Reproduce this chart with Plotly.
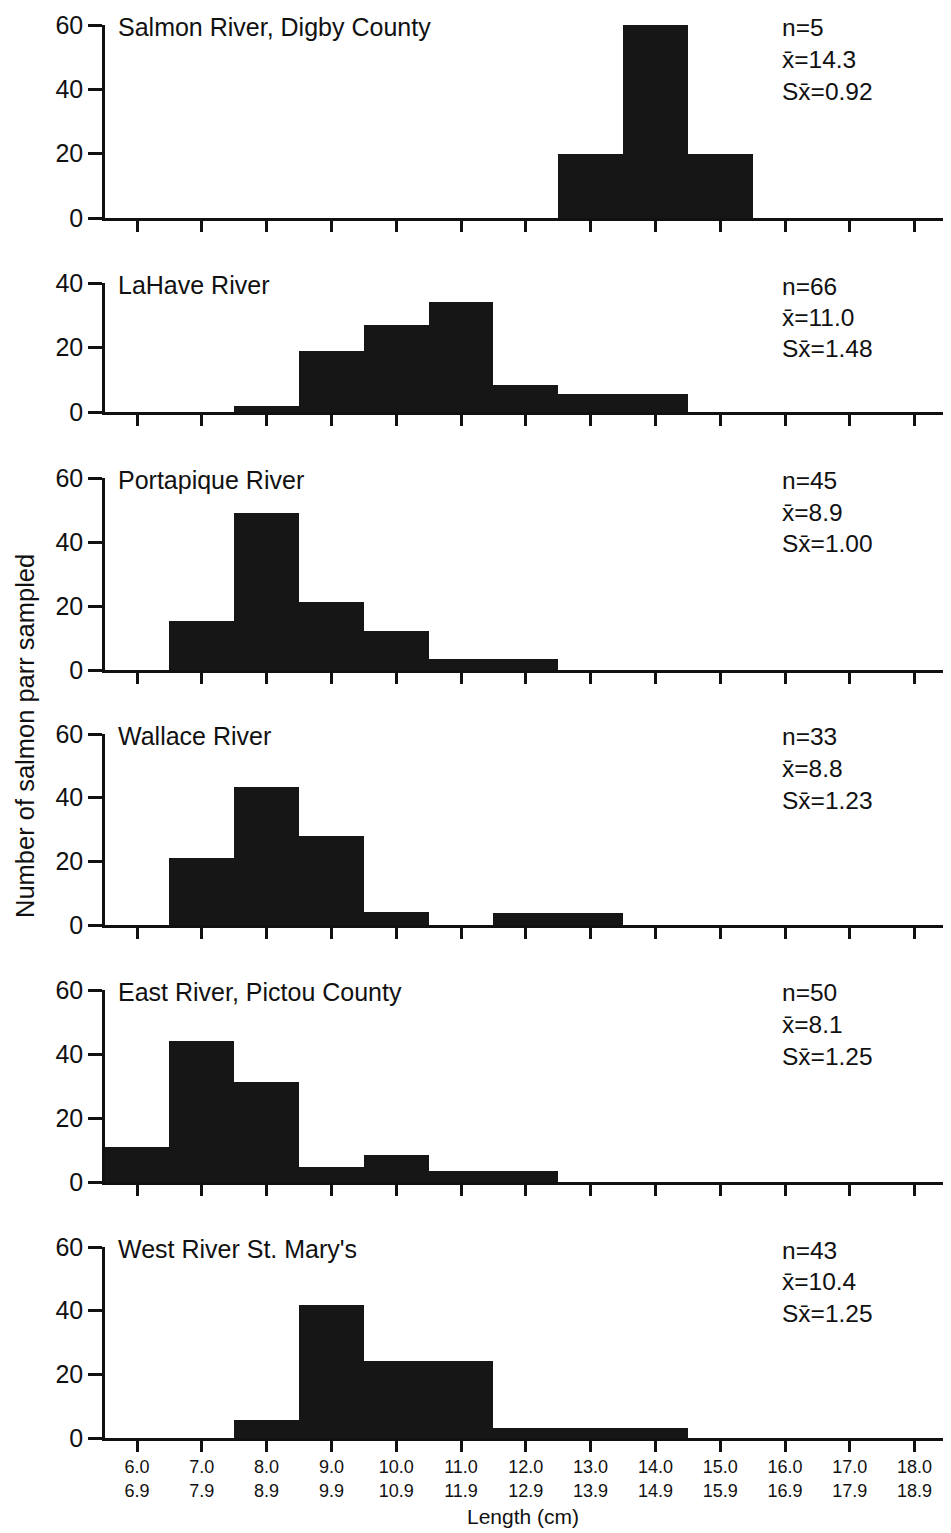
import plotly.graph_objects as go

# page has an 8px body margin; figure sized so it fills the 951x1533 window
OFF = 8
W, H = 951 - OFF, 1533 - OFF

bins = [6.0, 7.0, 8.0, 9.0, 10.0, 11.0, 12.0, 13.0, 14.0, 15.0, 16.0, 17.0, 18.0]
bin_labels = ["6.0<br>6.9", "7.0<br>7.9", "8.0<br>8.9", "9.0<br>9.9", "10.0<br>10.9",
              "11.0<br>11.9", "12.0<br>12.9", "13.0<br>13.9", "14.0<br>14.9",
              "15.0<br>15.9", "16.0<br>16.9", "17.0<br>17.9", "18.0<br>18.9"]

rivers = ["Salmon River, Digby County", "LaHave River", "Portapique River",
          "Wallace River", "East River, Pictou County", "West River St. Mary's"]

salmon = [0, 0, 0, 0, 0, 0, 0, 20, 60, 20, 0, 0, 0]
lahave = [0, 0, 2, 19, 27, 34, 8.5, 5.5, 5.5, 0, 0, 0, 0]
portapique = [0, 15.3, 49, 21.2, 12.1, 3.5, 3.5, 0, 0, 0, 0, 0, 0]
wallace = [0, 21, 43.2, 28, 4, 0, 3.9, 3.9, 0, 0, 0, 0, 0]
east = [10.8, 44, 31.3, 4.8, 8.3, 3.3, 3.3, 0, 0, 0, 0, 0, 0]
west = [0, 0, 5.6, 41.8, 24.2, 24.2, 3, 3, 3, 0, 0, 0, 0]
series = [salmon, lahave, portapique, wallace, east, west]

n_vals = ["5", "66", "45", "33", "50", "43"]
mean_vals = ["14.3", "11.0", "8.9", "8.8", "8.1", "10.4"]
se_vals = ["0.92", "1.48", "1.00", "1.23", "1.25", "1.25"]

y_max = [60, 40, 60, 60, 60, 60]
y_ticks = [[0, 20, 40, 60], [0, 20, 40], [0, 20, 40, 60], [0, 20, 40, 60],
           [0, 20, 40, 60], [0, 20, 40, 60]]

# panel pixel extents in the window: (top of range, zero line)
panel_px = [(25, 218), (283, 412), (478, 670), (734, 925), (990, 1182), (1247, 1438)]


def fx(p):
    return (p - OFF) / W


def fy(p):
    return 1 - (p - OFF) / H


FONT = "Liberation Sans, Arial, Helvetica, sans-serif"
INK = "#111"
BAR = "#161616"

fig = go.Figure()
layout = dict(width=W, height=H, margin=dict(l=0, r=0, t=0, b=0), autosize=False,
              paper_bgcolor="white", plot_bgcolor="white", showlegend=False,
              bargap=0, font=dict(family=FONT, color=INK, size=20))

annotations = []
x_dom = [fx(105), fx(945)]
x_rng = [6 - 32 / 64.8, 6 + 808 / 64.8]

for i, vals in enumerate(series):
    k = "" if i == 0 else str(i + 1)
    fig.add_trace(go.Bar(x=bins, y=vals, width=1.0, marker=dict(color=BAR, line=dict(width=0)),
                         xaxis="x" + k, yaxis="y" + k, hoverinfo="x+y"))
    top, zero = panel_px[i]
    dom = [fy(zero), fy(top)]
    last = i == len(series) - 1
    layout["xaxis" + k] = dict(domain=x_dom, range=x_rng, anchor="y" + k,
                               tickmode="array", tickvals=bins, ticktext=bin_labels,
                               showticklabels=last, ticks="outside", ticklen=11, tickwidth=3,
                               tickcolor=INK, showline=True, linewidth=2.5, linecolor=INK,
                               showgrid=False, zeroline=False, automargin=False,
                               tickfont=dict(size=18, family=FONT, color=INK))
    layout["yaxis" + k] = dict(domain=dom, range=[0, y_max[i]], anchor="x" + k,
                               tickmode="array", tickvals=y_ticks[i],
                               ticks="outside", ticklen=14, tickwidth=3, tickcolor=INK,
                               showline=True, linewidth=2.5, linecolor=INK,
                               showgrid=False, zeroline=False, automargin=False,
                               tickfont=dict(size=25, family=FONT, color=INK))
    annotations.append(dict(text=rivers[i], x=fx(116), y=fy(top + 2), xref="paper", yref="paper",
                            xanchor="left", yanchor="middle", showarrow=False,
                            font=dict(size=25, family=FONT, color=INK)))
    stats = ["n=" + n_vals[i], "x\u0304=" + mean_vals[i], "Sx\u0304=" + se_vals[i]]
    for j, s in enumerate(stats):
        annotations.append(dict(text=s, x=fx(780), y=fy(top + 3 + 31.5 * j),
                                xref="paper", yref="paper", xanchor="left", yanchor="middle",
                                showarrow=False, font=dict(size=24.5, family=FONT, color=INK)))

annotations.append(dict(text="Number of salmon parr sampled", x=fx(25), y=fy(736),
                        xref="paper", yref="paper", textangle=-90, showarrow=False,
                        xanchor="center", yanchor="middle",
                        font=dict(size=25.5, family=FONT, color=INK)))
annotations.append(dict(text="Length (cm)", x=fx(523), y=fy(1516), xref="paper", yref="paper",
                        showarrow=False, xanchor="center", yanchor="middle",
                        font=dict(size=21, family=FONT, color=INK)))

layout["annotations"] = annotations
fig.update_layout(**layout)
fig.write_html("out.html")
